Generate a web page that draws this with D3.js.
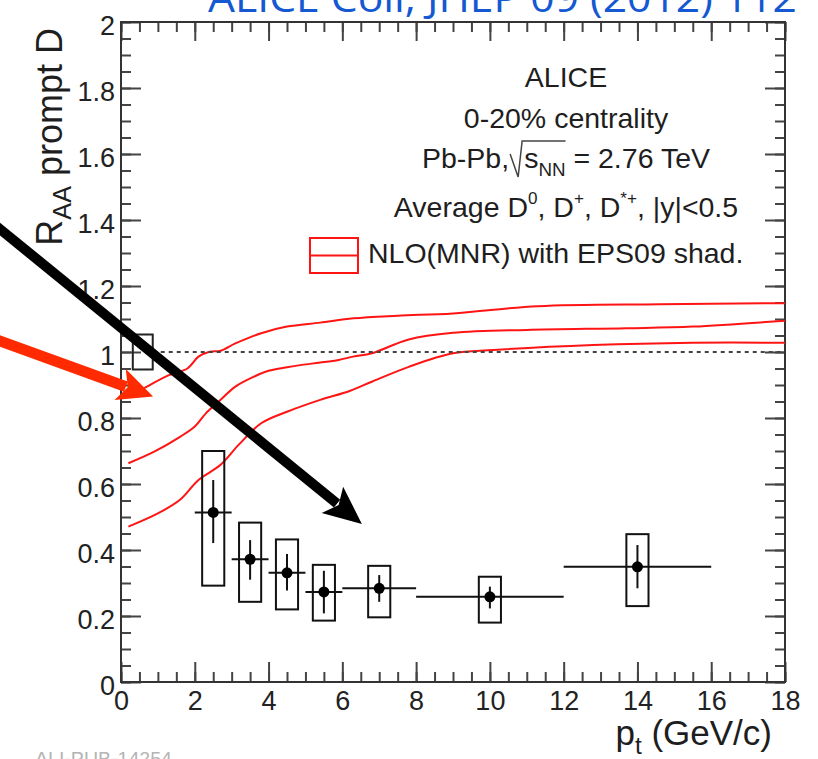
<!DOCTYPE html>
<html lang="en">
<head>
<meta charset="UTF-8">
<title>Prompt D meson R_AA, 0-20% Pb-Pb</title>
<style>
  body { margin: 0; background: #fff; }
  svg { display: block; font-family: "Liberation Sans", Arial, sans-serif; }
  svg text { white-space: pre; }
</style>
</head>
<body>
<svg id="chart" width="818" height="759"></svg>
<script src="https://d3js.org/d3.v7.min.js"></script>
<script>
// ---- data ----
const ptCenter = [2.5, 3.5, 4.5, 5.5, 7, 10, 14];
const binLow   = [2, 3, 4, 5, 6, 8, 12];
const binHigh  = [3, 4, 5, 6, 8, 12, 16];
const raa      = [0.514, 0.372, 0.331, 0.273, 0.284, 0.258, 0.349];
const statLow  = [0.421, 0.310, 0.277, 0.208, 0.243, 0.223, 0.284];
const statHigh = [0.612, 0.430, 0.388, 0.337, 0.324, 0.289, 0.415];
const sysLow   = [0.292, 0.243, 0.220, 0.186, 0.196, 0.180, 0.230];
const sysHigh  = [0.700, 0.483, 0.432, 0.355, 0.352, 0.319, 0.448];
const sysHalfWidth = 0.3;

// normalisation uncertainty box at RAA = 1
const normPt  = [0.32, 0.86];
const normRaa = [0.947, 1.053];

// NLO (MNR) + EPS09 band: upper, central, lower curves
const upperPt   = [0.25, 0.7, 1.3, 1.8, 2.1, 2.4, 2.7, 3.1, 3.8, 4.5, 5.4, 6.3, 7.5, 9.0, 11.3, 14.6, 18];
const upperRaa  = [0.865, 0.895, 0.930, 0.950, 0.986, 1.001, 1.004, 1.026, 1.057, 1.077, 1.089, 1.102, 1.110, 1.117, 1.139, 1.145, 1.148];
const centralPt  = [0.2, 0.9, 1.6, 2.0, 2.3, 2.7, 3.1, 3.6, 4.0, 4.5, 4.9, 5.4, 5.9, 6.3, 6.8, 7.8, 9.0, 11, 13.7, 15.5, 18];
const centralRaa = [0.663, 0.698, 0.743, 0.774, 0.814, 0.855, 0.895, 0.925, 0.943, 0.954, 0.961, 0.968, 0.976, 0.986, 0.996, 1.038, 1.058, 1.067, 1.072, 1.077, 1.095];
const lowerPt   = [0.2, 1.0, 1.6, 2.1, 2.7, 3.2, 3.8, 4.5, 5.4, 6.2, 6.8, 7.8, 9.0, 10.1, 12.8, 15.5, 18];
const lowerRaa  = [0.471, 0.511, 0.552, 0.612, 0.658, 0.720, 0.784, 0.819, 0.855, 0.882, 0.910, 0.955, 0.996, 1.006, 1.021, 1.028, 1.028];

const xTicks = [0, 2, 4, 6, 8, 10, 12, 14, 16, 18];
const yTicks = [0, 0.2, 0.4, 0.6, 0.8, 1, 1.2, 1.4, 1.6, 1.8, 2];

// slide annotations (arrows), in data units
const arrows = [
  { from: [-3.55, 1.397], to: [6.53, 0.479], color: "#000", w: 10, head: 36, half: 17 },
  { from: [-3.42, 1.039], to: [0.87, 0.865], color: "#ff2a00", w: 11, head: 33, half: 16.5 }
];

// ---- layout ----
const svg = d3.select("#chart");
const x = d3.scaleLinear().domain([0, 18]).range([121, 785]);
const y = d3.scaleLinear().domain([0, 2]).range([682, 22]);
const tickColor = "#444";
const labelSize = 27;

svg.append("rect").attr("width", 818).attr("height", 759).attr("fill", "#fff");

// header reference
svg.append("text")
  .attr("x", 208).attr("y", 11.5)
  .attr("font-family", "'Open Sans', sans-serif")
  .attr("font-size", 40)
  .attr("textLength", 589).attr("lengthAdjust", "spacingAndGlyphs")
  .attr("fill", "#1458d2")
  .text("ALICE Coll, JHEP 09 (2012) 112");

// faint figure id bottom-left
svg.append("text")
  .attr("x", 35).attr("y", 765)
  .attr("font-size", 18)
  .attr("textLength", 137).attr("lengthAdjust", "spacingAndGlyphs")
  .attr("fill", "#b4b4b4")
  .text("ALI-PUB-14254");

// ---- axes ----
function styleAxis(g) {
  g.select(".domain").remove();
  g.selectAll(".tick line").attr("stroke", tickColor).attr("stroke-width", 2);
  g.selectAll(".tick text").attr("font-size", labelSize).attr("fill", "#222")
    .attr("font-family", "'Liberation Sans', Arial, sans-serif");
}
const fmt = d => String(+d.toFixed(2));
const xMinor = d3.range(0, 18.01, 0.5);
const yMinor = d3.range(0, 40.5, 1).map(i => i * 0.05);

svg.append("g").attr("transform", `translate(0,${y(0)})`)
  .call(d3.axisBottom(x).tickValues(xMinor).tickSize(-10).tickFormat(""))
  .call(styleAxis);
svg.append("g").attr("transform", `translate(0,${y(0)})`)
  .call(d3.axisBottom(x).tickValues(xTicks).tickSizeInner(-20).tickSizeOuter(0).tickPadding(9).tickFormat(fmt))
  .call(styleAxis);
svg.append("g").attr("transform", `translate(0,${y(2)})`)
  .call(d3.axisTop(x).tickValues(xMinor).tickSize(-10).tickFormat(""))
  .call(styleAxis);
svg.append("g").attr("transform", `translate(0,${y(2)})`)
  .call(d3.axisTop(x).tickValues(xTicks).tickSize(-19).tickFormat(""))
  .call(styleAxis);

svg.append("g").attr("transform", `translate(${x(0)},0)`)
  .call(d3.axisLeft(y).tickValues(yMinor).tickSize(-10).tickFormat(""))
  .call(styleAxis);
svg.append("g").attr("transform", `translate(${x(0)},0)`)
  .call(d3.axisLeft(y).tickValues(yTicks).tickSizeInner(-20).tickSizeOuter(0).tickPadding(6).tickFormat(fmt))
  .call(styleAxis)
  .call(g => g.selectAll(".tick text").attr("dy", "0.45em"));
svg.append("g").attr("transform", `translate(${x(18)},0)`)
  .call(d3.axisRight(y).tickValues(yMinor).tickSize(-10).tickFormat(""))
  .call(styleAxis);
svg.append("g").attr("transform", `translate(${x(18)},0)`)
  .call(d3.axisRight(y).tickValues(yTicks).tickSize(-20).tickFormat(""))
  .call(styleAxis);

svg.append("rect")
  .attr("x", x(0)).attr("y", y(2))
  .attr("width", x(18) - x(0)).attr("height", y(0) - y(2))
  .attr("fill", "none").attr("stroke", "#333").attr("stroke-width", 2);

// rich text helper: parts laid out left to right, sub/superscripts via dy
function rich(parent, px, py, parts, size, anchor, rotate) {
  const outer = parent.append("g")
    .attr("transform", `translate(${px},${py})` + (rotate ? ` rotate(${rotate})` : ""));
  const g = outer.append("g");
  let cx = 0;
  const spans = [];
  parts.forEach(p => {
    if (p.rad) { spans.push({ x0: cx, x1: cx + p.rad, p }); cx += p.rad; return; }
    const t = g.append("text")
      .attr("x", cx).attr("y", p.dy || 0)
      .attr("font-size", size * (p.s || 1))
      .attr("fill", "#1e1e1e")
      .text(p.t);
    const w = t.node().getComputedTextLength();
    spans.push({ x0: cx, x1: cx + w, p });
    cx += w;
  });
  const shift = anchor === "middle" ? -cx / 2 : anchor === "end" ? -cx : 0;
  g.attr("transform", `translate(${shift},0)`);
  return { g, spans };
}

// axis titles
rich(svg, 772, 745, [{ t: "p" }, { t: "t", s: 0.7, dy: 9 }, { t: " (GeV/c)" }], 35, "end");
rich(svg, 62, 28, [{ t: "R" }, { t: "AA", s: 0.7, dy: 9 }, { t: " prompt D" }], 36, "end", -90);

// ---- NLO band curves ----
const curve = d3.line().x(d => x(d[0])).y(d => y(d[1])).curve(d3.curveCatmullRom);
[[upperPt, upperRaa], [centralPt, centralRaa], [lowerPt, lowerRaa]].forEach(([pts, vals]) => {
  svg.append("path")
    .attr("d", curve(pts.map((p, i) => [p, vals[i]])))
    .attr("fill", "none").attr("stroke", "#ff1414").attr("stroke-width", 2);
});

// reference line at 1
svg.append("line")
  .attr("x1", x(normPt[1])).attr("x2", x(18))
  .attr("y1", y(1)).attr("y2", y(1))
  .attr("stroke", "#444").attr("stroke-width", 2).attr("stroke-dasharray", "4,4");

// normalisation box
svg.append("rect")
  .attr("x", x(normPt[0])).attr("y", y(normRaa[1]))
  .attr("width", x(normPt[1]) - x(normPt[0])).attr("height", y(normRaa[0]) - y(normRaa[1]))
  .attr("fill", "none").attr("stroke", "#222").attr("stroke-width", 2);

// ---- data points ----
const pts = ptCenter.map((p, i) => ({
  p, v: raa[i], lo: binLow[i], hi: binHigh[i],
  sl: statLow[i], sh: statHigh[i], yl: sysLow[i], yh: sysHigh[i]
}));
const dg = svg.append("g").attr("stroke", "#111").attr("stroke-width", 2);
dg.selectAll("rect.sys").data(pts).join("rect").attr("class", "sys")
  .attr("x", d => x(d.p - sysHalfWidth))
  .attr("width", d => x(d.p + sysHalfWidth) - x(d.p - sysHalfWidth))
  .attr("y", d => y(d.yh)).attr("height", d => y(d.yl) - y(d.yh))
  .attr("fill", "none");
dg.selectAll("line.bin").data(pts).join("line").attr("class", "bin")
  .attr("x1", d => x(d.lo)).attr("x2", d => x(d.hi))
  .attr("y1", d => y(d.v)).attr("y2", d => y(d.v));
dg.selectAll("line.stat").data(pts).join("line").attr("class", "stat")
  .attr("x1", d => x(d.p)).attr("x2", d => x(d.p))
  .attr("y1", d => y(d.sl)).attr("y2", d => y(d.sh));
svg.selectAll("circle.pt").data(pts).join("circle").attr("class", "pt")
  .attr("cx", d => x(d.p)).attr("cy", d => y(d.v)).attr("r", 5.5).attr("fill", "#000");

// ---- legend text ----
const lx = 566;
rich(svg, lx, 87, [{ t: "ALICE" }], 28.5, "middle");
rich(svg, lx, 128, [{ t: "0-20% centrality" }], 28.5, "middle");
const pb = rich(svg, lx, 168, [
  { t: "Pb-Pb," }, { rad: 15 }, { t: "s" }, { t: "NN", s: 0.66, dy: 8 }, { t: " = 2.76 TeV" }
], 28.5, "middle");
const r0 = pb.spans[1].x0, rEnd = pb.spans[3].x1;
pb.g.append("path")
  .attr("d", `M${r0 + 1},-14 L${r0 + 9},9 L${r0 + 13},-27 L${rEnd},-27`)
  .attr("fill", "none").attr("stroke", "#444").attr("stroke-width", 1.5);
rich(svg, lx, 216.5, [
  { t: "Average D" }, { t: "0", s: 0.6, dy: -13 }, { t: ", D" }, { t: "+", s: 0.6, dy: -13 },
  { t: ", D" }, { t: "*+", s: 0.6, dy: -13 }, { t: ", |y|<0.5" }
], 28.5, "middle");

svg.append("rect").attr("x", 310).attr("y", 238).attr("width", 48).attr("height", 35)
  .attr("fill", "none").attr("stroke", "#ff1414").attr("stroke-width", 2);
svg.append("line").attr("x1", 310).attr("x2", 358).attr("y1", 255.5).attr("y2", 255.5)
  .attr("stroke", "#ff1414").attr("stroke-width", 2);
rich(svg, 368, 263, [{ t: "NLO(MNR) with EPS09 shad." }], 28.5, "start");

// ---- annotation arrows ----
arrows.forEach(a => {
  const x0 = x(a.from[0]), y0 = y(a.from[1]), x1 = x(a.to[0]), y1 = y(a.to[1]);
  const len = Math.hypot(x1 - x0, y1 - y0);
  const ux = (x1 - x0) / len, uy = (y1 - y0) / len;
  const bx = x1 - ux * a.head, by = y1 - uy * a.head;
  svg.append("line")
    .attr("x1", x0).attr("y1", y0).attr("x2", bx + ux * 4).attr("y2", by + uy * 4)
    .attr("stroke", a.color).attr("stroke-width", a.w);
  const nx = bx + ux * 6, ny = by + uy * 6;
  svg.append("polygon")
    .attr("points", [
      [x1, y1],
      [bx - uy * a.half - ux * 2, by + ux * a.half - uy * 2],
      [nx, ny],
      [bx + uy * a.half - ux * 2, by - ux * a.half - uy * 2]
    ].map(p => p.join(",")).join(" "))
    .attr("fill", a.color);
});
</script>
</body>
</html>
